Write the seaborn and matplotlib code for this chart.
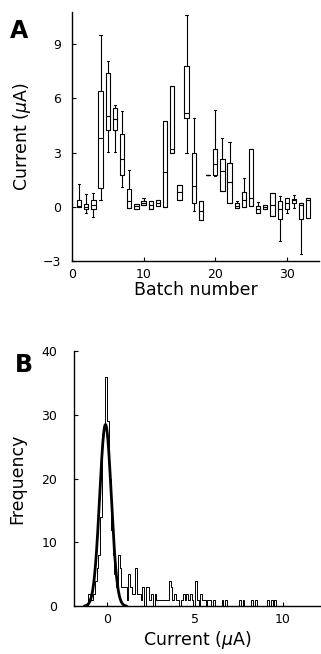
import numpy as np
import pandas as pd
import matplotlib
matplotlib.use("Agg")
import matplotlib.pyplot as plt
import seaborn as sns

sns.set_style("ticks")
plt.rcParams["font.family"] = ["DejaVu Sans"]
plt.rcParams.update({"text.color": "black", "axes.labelcolor": "black",
                     "xtick.color": "black", "ytick.color": "black",
                     "axes.edgecolor": "black"})

# panel A: box statistics per batch, in uA
batches = list(range(1, 34))
lo = [0.0, -0.33, -0.55, 0.4, 3.04, 3.04, 1.09, -0.05, -0.1, 0.1, -0.1, 0.04, 0.0,
      2.96, 0.4, 2.96, -0.24, -0.74, 1.78, 1.7, 0.87, 0.22, -0.06, 0.0, 0.07,
      -0.33, -0.15, -0.52, -1.9, -0.33, -0.06, -2.6, -0.6]
q1 = [0.0, -0.1, -0.15, 1.05, 4.24, 4.24, 1.74, -0.05, -0.1, 0.12, -0.1, 0.04, 0.0,
      2.96, 0.4, 4.9, 0.19, -0.74, 1.78, 1.74, 0.87, 0.22, -0.06, 0.0, 0.07,
      -0.33, -0.15, -0.52, -0.7, -0.15, 0.19, -0.7, -0.6]
med = [0.05, 0.0, 0.1, 3.8, 5.0, 4.85, 2.63, 0.3, 0.05, 0.2, 0.1, 0.2, 1.94,
       3.19, 0.8, 5.2, 1.15, -0.24, 1.78, 2.39, 1.98, 1.37, 0.06, 0.4, 0.5,
       -0.1, 0.0, 0.1, -0.15, 0.2, 0.35, 0.1, 0.4]
q3 = [0.35, 0.18, 0.35, 6.43, 7.4, 5.46, 4.02, 1.0, 0.18, 0.3, 0.33, 0.4, 4.76,
      6.7, 1.2, 7.8, 2.96, 0.31, 1.78, 3.19, 2.67, 2.44, 0.19, 0.83, 3.19,
      0.04, 0.09, 0.74, 0.31, 0.46, 0.44, 0.19, 0.5]
hi = [1.25, 0.72, 0.78, 9.5, 8.07, 5.63, 5.31, 2.04, 0.18, 0.46, 0.33, 0.4, 4.76,
      6.7, 1.2, 10.6, 4.89, 0.31, 1.78, 5.35, 3.83, 3.59, 0.31, 1.57, 3.19,
      0.26, 0.09, 0.74, 0.6, 0.46, 0.65, 0.22, 0.5]

# panel B: histogram counts, bin width 0.1 uA (left edges)
bin_left = [-1.1, -1.0, -0.9, -0.8, -0.7, -0.6, -0.5, -0.4, -0.3, -0.2, -0.1, 0.0,
            0.1, 0.2, 0.3, 0.4, 0.5, 0.6, 0.7, 0.8, 0.9, 1.0, 1.1, 1.2, 1.3, 1.4,
            1.5, 1.6, 1.7, 1.8, 1.9, 2.0, 2.2, 2.3, 2.4, 2.5, 2.7, 2.8, 2.9, 3.0,
            3.1, 3.2, 3.3, 3.4, 3.5, 3.6, 3.7, 3.8, 3.9, 4.0, 4.2, 4.3, 4.4, 4.5,
            4.6, 4.7, 4.8, 5.0, 5.1, 5.3, 5.4, 5.5, 5.7, 5.8, 6.0, 6.5, 6.7, 7.5,
            7.7, 8.2, 8.4, 9.1, 9.3, 9.5]
counts = [2, 1, 1, 2, 4, 6, 8, 14, 27, 28, 36, 29,
          20, 12, 8, 5, 3, 8, 6, 3, 3, 3, 1, 5, 3, 2,
          2, 6, 2, 2, 1, 3, 3, 3, 1, 2, 2, 1, 1, 1,
          1, 1, 1, 1, 4, 3, 1, 2, 1, 1, 1, 2, 1, 2,
          1, 2, 1, 4, 1, 2, 1, 1, 1, 1, 1, 1, 1, 1,
          1, 1, 1, 1, 1, 1]
# gaussian fit to the main peak
fit_amp, fit_mu, fit_sigma = 28.5, -0.1, 0.33

rows = []
for b, a, c, d, e, f in zip(batches, lo, q1, med, q3, hi):
    for v in (a, c, d, e, f):
        rows.append({"batch": b, "current": v})
df = pd.DataFrame(rows)

fig = plt.figure(figsize=(3.21, 6.54), dpi=100)
axA = fig.add_axes([0.224, 0.601, 0.77, 0.381])
axB = fig.add_axes([0.230, 0.073, 0.767, 0.39])

sns.boxplot(data=df, x="batch", y="current", native_scale=True, whis=(0, 100),
            width=0.6, fill=False, color="black", linewidth=0.8,
            showfliers=False, ax=axA)
axA.set_xlim(0, 34.5)
axA.set_ylim(-3, 10.8)
axA.set_xticks([0, 10, 20, 30])
axA.set_yticks([-3, 0, 3, 6, 9])
axA.set_xlabel("Batch number", fontsize=12.5, labelpad=0)
axA.set_ylabel("Current ($\\mu$A)", fontsize=12.5, labelpad=7)

centers = np.array(bin_left) + 0.05
sns.histplot(x=centers, weights=counts, binwidth=0.1, binrange=(-1.5, 10.5),
             element="step", fill=False, color="black", linewidth=0.7, ax=axB)
xs = np.linspace(-1.3, 1.1, 200)
sns.lineplot(x=xs, y=fit_amp * np.exp(-0.5 * ((xs - fit_mu) / fit_sigma) ** 2),
             color="black", linewidth=2, ax=axB)
axB.set_xlim(-1.9, 12.1)
axB.set_ylim(0, 40)
axB.set_xticks([0, 5, 10])
axB.set_yticks([0, 10, 20, 30, 40])
axB.set_xlabel("Current ($\\mu$A)", fontsize=12.5, labelpad=2)
axB.set_ylabel("Frequency", fontsize=12.5, labelpad=11)

for ax in (axA, axB):
    sns.despine(ax=ax)
    ax.tick_params(direction="in", length=3, width=0.8, labelsize=9)
    ax.tick_params(axis="x", pad=5)
    for s in ax.spines.values():
        s.set_linewidth(1.0)
axA.tick_params(axis="y", pad=8)
axB.tick_params(axis="y", pad=12)

fig.text(0.03, 0.953, "A", fontsize=17, fontweight="bold", va="center")
fig.text(0.045, 0.442, "B", fontsize=17, fontweight="bold", va="center")

fig.savefig("out.png", dpi=100)
